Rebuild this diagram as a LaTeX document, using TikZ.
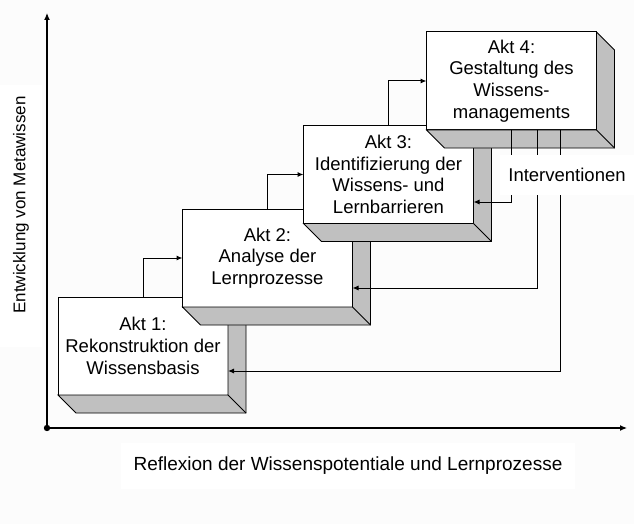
\documentclass[tikz,border=0pt]{standalone}
\usepackage{fontspec}
\setmainfont{Liberation Sans}
\usetikzlibrary{arrows.meta,calc}
\definecolor{bgc}{RGB}{252,252,252}
\definecolor{sidegray}{RGB}{192,192,192}
\newcommand\extrudebox[1]{%
  \filldraw[sideface] (#1.north east) -- ++(18,18) -- ($(#1.south east)+(18,18)$)
    -- ($(#1.south west)+(18,18)$) -- (#1.south west) -- (#1.south east) -- cycle;
  \draw[sideface] (#1.south east) -- ++(18,18);}
\tikzset{
  aktbox/.style={draw=black, fill=white, line width=1pt, inner sep=0pt, outer sep=0pt,
    minimum width=170pt, minimum height=98pt, align=center,
    font=\fontsize{18.5}{21.7}\selectfont},
  sideface/.style={draw=black, fill=sidegray, line width=0.8pt, line join=miter},
  conn/.style={draw=black, line width=1pt, -{Latex[length=6pt,width=5pt]}},
  axis/.style={draw=black, line width=1.2pt, -{Latex[length=7pt,width=6pt]}},
  lbl/.style={fill=white, inner sep=0pt}
}
\begin{document}
\begin{tikzpicture}[x=1pt,y=-1pt]
\useasboundingbox (0,0) rectangle (634,524);
\fill[bgc] (0,0) rectangle (634,524);
% axis labels
\node[lbl, rotate=90, minimum width=262pt, minimum height=42pt,
  font=\fontsize{17}{20}\selectfont] (ylab) at (21,216) {\hspace*{22pt}Entwicklung von Metawissen};
\node[lbl, minimum width=454pt, minimum height=46pt,
  font=\fontsize{19}{22}\selectfont] (xlab) at (348,466) {Reflexion der Wissenspotentiale und Lernprozesse};
% axes
\coordinate (o) at (47,428);
\coordinate (ytop) at (47,13);
\coordinate (xend) at (627,428);
\draw[axis] (o) -- (ytop);
\draw[axis] (o) -- (xend);
\fill (o) circle (3.2);
% boxes
\node[aktbox] (b1) at (143,346) {Akt 1:\\Rekonstruktion der\\Wissensbasis};
\extrudebox{b1}
\node[aktbox] (b2) at (267.5,258) {Akt 2:\\Analyse der\\Lernprozesse};
\extrudebox{b2}
\node[aktbox] (b3) at (388.5,174.5) {Akt 3:\\Identifizierung der\\Wissens- und\\Lernbarrieren};
\extrudebox{b3}
\node[aktbox] (b4) at (511.5,81) {Akt 4:\\Gestaltung des\\Wissens-\\managements};
\extrudebox{b4}
% step connectors
\draw[conn] (b1.north) |- (b2.west);
\draw[conn] (b2.north) |- (b3.west);
\draw[conn] (b3.north) |- (b4.west);
% interventions
\draw[conn] ($(b4.south west)+(85,0)$) |- ($(b3.east)+(0,27.5)$);
\draw[conn] ($(b4.south west)+(111,0)$) |- ($(b2.east)+(0,30)$);
\draw[conn] ($(b4.south west)+(134,0)$) |- ($(b1.east)+(0,25)$);
\node[lbl, minimum width=134pt, minimum height=40pt,
  font=\fontsize{18.5}{21.7}\selectfont] (iv) at (567,175) {Interventionen};
\end{tikzpicture}
\end{document}
